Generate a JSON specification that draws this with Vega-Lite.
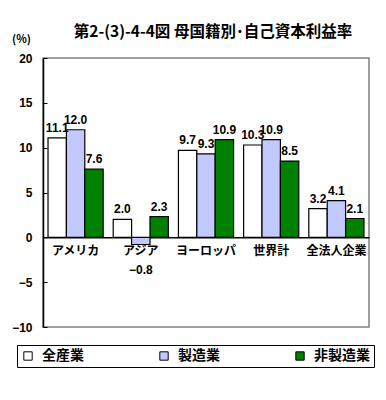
{
  "$schema": "https://vega.github.io/schema/vega-lite/v6.json",
  "autosize": "none",
  "width": 326,
  "height": 269,
  "padding": {"left": 43, "top": 58, "right": 17, "bottom": 73},
  "background": "white",
  "title": {
    "text": "第2-(3)-4-4図 母国籍別･自己資本利益率",
    "font": "Noto Sans CJK JP",
    "fontSize": 15.5,
    "fontWeight": "bold",
    "color": "black",
    "anchor": "middle",
    "dx": 7,
    "offset": -7
  },
  "config": {
    "view": {"stroke": "#808080", "strokeWidth": 1.5},
    "font": "Noto Sans CJK JP"
  },
  "data": {
    "values": [
      {"region": "アメリカ", "industry": "全産業", "value": 11.1},
      {"region": "アメリカ", "industry": "製造業", "value": 12.0},
      {"region": "アメリカ", "industry": "非製造業", "value": 7.6},
      {"region": "アジア", "industry": "全産業", "value": 2.0},
      {"region": "アジア", "industry": "製造業", "value": -0.8},
      {"region": "アジア", "industry": "非製造業", "value": 2.3},
      {"region": "ヨーロッパ", "industry": "全産業", "value": 9.7},
      {"region": "ヨーロッパ", "industry": "製造業", "value": 9.3},
      {"region": "ヨーロッパ", "industry": "非製造業", "value": 10.9},
      {"region": "世界計", "industry": "全産業", "value": 10.3},
      {"region": "世界計", "industry": "製造業", "value": 10.9},
      {"region": "世界計", "industry": "非製造業", "value": 8.5},
      {"region": "全法人企業", "industry": "全産業", "value": 3.2},
      {"region": "全法人企業", "industry": "製造業", "value": 4.1},
      {"region": "全法人企業", "industry": "非製造業", "value": 2.1}
    ]
  },
  "encoding": {
    "x": {
      "field": "region",
      "type": "nominal",
      "sort": ["アメリカ", "アジア", "ヨーロッパ", "世界計", "全法人企業"],
      "scale": {"paddingInner": 0.154, "paddingOuter": 0.077},
      "axis": {
        "title": null,
        "labelAngle": 0,
        "labelFont": "Noto Sans CJK JP",
        "labelFontSize": 12,
        "labelFontWeight": "bold",
        "labelColor": "black",
        "labelPadding": 8,
        "ticks": false,
        "domainColor": "black",
        "domainWidth": 1.5,
        "offset": -89.67
      }
    },
    "xOffset": {
      "field": "industry",
      "type": "nominal",
      "sort": ["全産業", "製造業", "非製造業"],
      "scale": {"paddingInner": 0, "paddingOuter": 0}
    },
    "y": {
      "field": "value",
      "type": "quantitative",
      "scale": {"domain": [-10, 20], "nice": false, "zero": false},
      "axis": {
        "title": "(%)",
        "titleAngle": 0,
        "titleX": -22,
        "titleY": -14,
        "titleFontSize": 11,
        "titleFontWeight": "bold",
        "titleColor": "black",
        "titleAlign": "center",
        "values": [-10, -5, 0, 5, 10, 15, 20],
        "grid": false,
        "labelFont": "Liberation Sans",
        "labelFontSize": 12,
        "labelFontWeight": "bold",
        "labelColor": "black",
        "labelPadding": 15,
        "tickSize": -4,
        "tickColor": "black",
        "domainColor": "black",
        "domainWidth": 1.5
      }
    }
  },
  "layer": [
    {
      "mark": {"type": "bar", "stroke": "black", "strokeWidth": 1.2},
      "encoding": {
        "fill": {
          "field": "industry",
          "type": "nominal",
          "sort": ["全産業", "製造業", "非製造業"],
          "scale": {
            "domain": ["全産業", "製造業", "非製造業"],
            "range": ["#ffffff", "#c2c9ff", "#008000"]
          },
          "legend": {
            "title": null,
            "orient": "none",
            "legendX": -26,
            "legendY": 287,
            "direction": "horizontal",
            "columns": 3,
            "columnPadding": 73,
            "padding": 4,
            "strokeColor": "black",
            "symbolType": "square",
            "symbolSize": 70,
            "symbolStrokeColor": "black",
            "symbolStrokeWidth": 1,
            "labelFont": "Noto Sans CJK JP",
            "labelFontSize": 14,
            "labelFontWeight": "bold",
            "labelColor": "black",
            "labelOffset": 7
          }
        }
      }
    },
    {
      "transform": [{"filter": "datum.value >= 0"}],
      "mark": {"type": "text", "baseline": "bottom", "dy": -3, "font": "Liberation Sans", "fontSize": 12, "fontWeight": "bold", "color": "black"},
      "encoding": {"text": {"field": "value", "type": "quantitative", "format": ".1f"}}
    },
    {
      "transform": [{"filter": "datum.value < 0"}],
      "mark": {"type": "text", "baseline": "top", "dy": 20, "font": "Liberation Sans", "fontSize": 12, "fontWeight": "bold", "color": "black"},
      "encoding": {"text": {"field": "value", "type": "quantitative", "format": ".1f"}}
    }
  ]
}
